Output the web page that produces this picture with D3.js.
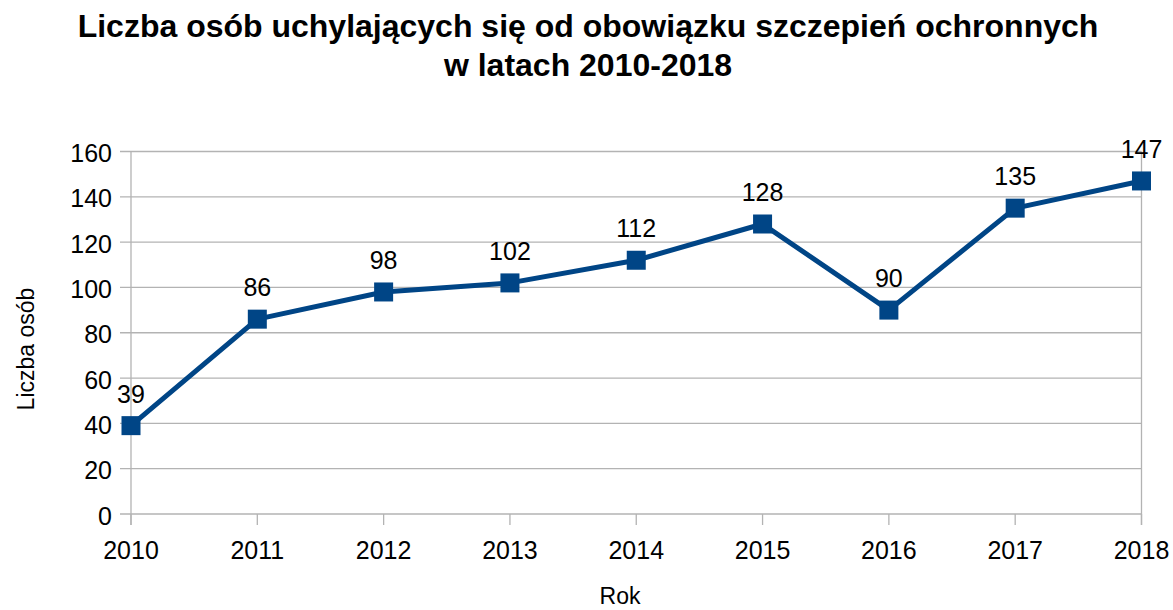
<!DOCTYPE html>
<html>
<head>
<meta charset="utf-8">
<script src="https://cdn.jsdelivr.net/npm/d3@7"></script>
<style>
    body { margin: 0; background: #fff; }
    text { font-family: "Liberation Sans", Arial, sans-serif; fill: #000; }
</style>
</head>
<body>
<svg id="chart" width="1173" height="610"></svg>
<script>
const years = [2010, 2011, 2012, 2013, 2014, 2015, 2016, 2017, 2018];
const counts = [39, 86, 98, 102, 112, 128, 90, 135, 147];
const yTicks = [0, 20, 40, 60, 80, 100, 120, 140, 160];
const titleLines = ['Liczba osób uchylających się od obowiązku szczepień ochronnych', 'w latach 2010-2018'];

const svg = d3.select('#chart');
const plotLeft = 131, plotRight = 1141.5, plotTop = 151.5, plotBottom = 514;
const blue = '#004586';
const gridColor = '#b3b3b3';

const x = d3.scalePoint().domain(years).range([plotLeft, plotRight]);
const y = d3.scaleLinear().domain([0, 160]).range([plotBottom, plotTop]);

// title
svg.append('g')
    .selectAll('text')
    .data(titleLines)
    .enter()
    .append('text')
    .text((d) => d)
    .attr('x', 588)
    .attr('y', (d, i) => 37 + i * 39)
    .attr('text-anchor', 'middle')
    .style('font-size', '32px')
    .style('font-weight', 'bold');

// horizontal grid
svg.append('g')
    .selectAll('line')
    .data(yTicks)
    .enter()
    .append('line')
    .attr('x1', plotLeft - 11)
    .attr('x2', plotRight)
    .attr('y1', (d) => y(d))
    .attr('y2', (d) => y(d))
    .attr('stroke', gridColor)
    .attr('stroke-width', 1.3);

// left axis line + right border
svg.append('line')
    .attr('x1', plotLeft).attr('x2', plotLeft)
    .attr('y1', plotTop).attr('y2', plotBottom + 11)
    .attr('stroke', gridColor).attr('stroke-width', 1.3);
svg.append('line')
    .attr('x1', plotRight).attr('x2', plotRight)
    .attr('y1', plotTop).attr('y2', plotBottom + 11)
    .attr('stroke', gridColor).attr('stroke-width', 1.3);

// x ticks
svg.append('g')
    .selectAll('line')
    .data(years)
    .enter()
    .append('line')
    .attr('x1', (d) => x(d))
    .attr('x2', (d) => x(d))
    .attr('y1', plotBottom)
    .attr('y2', plotBottom + 11)
    .attr('stroke', gridColor)
    .attr('stroke-width', 1.3);

// y tick labels
svg.append('g')
    .selectAll('text')
    .data(yTicks)
    .enter()
    .append('text')
    .text((d) => d)
    .attr('x', plotLeft - 19)
    .attr('y', (d) => y(d) + 10.5)
    .attr('text-anchor', 'end')
    .style('font-size', '25px');

// x tick labels
svg.append('g')
    .selectAll('text')
    .data(years)
    .enter()
    .append('text')
    .text((d) => d)
    .attr('x', (d) => x(d))
    .attr('y', plotBottom + 45)
    .attr('text-anchor', 'middle')
    .style('font-size', '25px');

// axis titles
svg.append('text')
    .text('Rok')
    .attr('x', 620)
    .attr('y', 604)
    .attr('text-anchor', 'middle')
    .style('font-size', '23px');
svg.append('text')
    .text('Liczba osób')
    .attr('transform', `translate(34, 349) rotate(-90)`)
    .attr('text-anchor', 'middle')
    .style('font-size', '23px');

// line + markers
const points = years.map((yr, i) => ({ year: yr, value: counts[i] }));
const line = d3.line().x((d) => x(d.year)).y((d) => y(d.value));
svg.append('path')
    .datum(points)
    .attr('d', line)
    .attr('fill', 'none')
    .attr('stroke', blue)
    .attr('stroke-width', 5)
    .attr('stroke-linejoin', 'round');

svg.append('g')
    .selectAll('rect')
    .data(points)
    .enter()
    .append('rect')
    .attr('x', (d) => x(d.year) - 9.5)
    .attr('y', (d) => y(d.value) - 9.5)
    .attr('width', 19)
    .attr('height', 19)
    .attr('fill', blue);

// data labels
svg.append('g')
    .selectAll('text')
    .data(points)
    .enter()
    .append('text')
    .text((d) => d.value)
    .attr('x', (d) => x(d.year))
    .attr('y', (d) => y(d.value) - 23)
    .attr('text-anchor', 'middle')
    .style('font-size', '25px');
</script>
</body>
</html>
